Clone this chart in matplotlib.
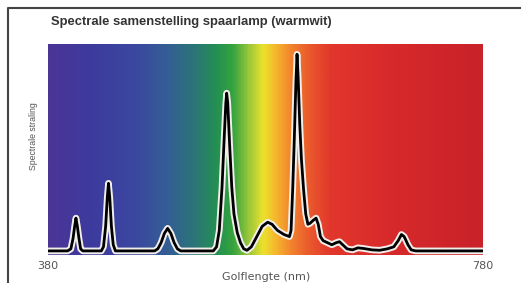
import numpy as np
import matplotlib
matplotlib.use("Agg")
import matplotlib.pyplot as plt
import matplotlib.patheffects as pe
from matplotlib.colors import LinearSegmentedColormap
from matplotlib.lines import Line2D

# Spectrum (wavelength in nm, relative intensity)
wavelength = [380, 398, 401, 403, 404.5, 405.7, 407, 408.5, 410, 412,
              429, 431, 433, 434.5, 435.6, 436.8, 438.3, 440, 442,
              478, 481, 484, 487, 490, 493, 496, 499, 502,
              532, 535, 537.5, 540, 542, 543.5, 544.3, 545.3, 547, 549, 551, 554, 557, 560, 563,
              567, 572, 577, 582, 586, 591, 597, 602,
              603.5, 605, 606.5, 608, 609, 610, 611.5, 613, 615, 617, 619,
              621, 624, 626.5, 628.5, 630.5, 633, 637, 641, 645, 648, 651, 655,
              660, 665, 670, 678, 685, 692, 698, 702, 705, 707.5, 711, 714, 718, 780]
intensity = [0, 0, 1, 6, 12, 16, 12, 6, 1, 0,
             0, 2, 12, 26, 33, 26, 12, 3, 0,
             0, 1, 4, 8.5, 11, 8.5, 4, 1, 0,
             0, 2, 10, 31, 55, 72, 77, 72, 52, 31, 18, 9, 4, 1, 0.3,
             2, 7, 12, 14, 13, 10, 8, 7,
             10, 30, 55, 83, 96, 85, 62, 45, 30, 18, 13,
             13.5, 15, 16, 13, 7, 5, 4, 3, 4, 4.5, 3, 1,
             0.5, 1.5, 1.2, 0.5, 0.3, 1, 2, 5, 8, 7, 3, 0.5, 0, 0]

# colour stops of the background spectrum
grad_nm = [380, 420, 460, 490, 515, 535, 550, 565, 578, 590, 603, 620, 640, 700, 780]
grad_colors = ["#4b3597", "#3d3b9e", "#3a48a0", "#345e94", "#2b7676", "#239052",
               "#36a33e", "#9cc83a", "#ece12c", "#f5b52c", "#f2862e", "#ea5a2c",
               "#e2372c", "#d6292b", "#c92229"]

title = "Spectrale samenstelling spaarlamp (warmwit)"
x_label = "Golflengte (nm)"
y_label = "Spectrale straling"

plt.rcParams['font.family'] = ['Liberation Sans', 'DejaVu Sans']

W, H = 521, 283
fig = plt.figure(figsize=(W / 100, H / 100), dpi=100)
ax = fig.add_axes([48 / W, 28 / H, 435 / W, 211 / H])

pos = [(n - 380) / 400 for n in grad_nm]
cmap = LinearSegmentedColormap.from_list("spec", list(zip(pos, grad_colors)))
ax.imshow(np.linspace(0, 1, 400).reshape(1, -1), cmap=cmap, aspect='auto',
          extent=[380, 780, -2, 101], interpolation='bilinear')

ax.plot(wavelength, intensity, color='black', lw=2.0, solid_joinstyle='round',
        path_effects=[pe.withStroke(linewidth=4.8, foreground='#f2eeec')])

ax.set_xlim(380, 780)
ax.set_ylim(-2, 101)
ax.set_xticks([380, 780])
ax.set_xticklabels(["380", "780"], fontsize=8, color='#555555', family='DejaVu Sans')
ax.set_yticks([])
ax.tick_params(axis='x', length=0, pad=4)
for s in ax.spines.values():
    s.set_visible(False)

fig.text(51 / W, 1 - 22 / H, title, fontsize=9.4, fontweight='bold',
         color='#333333', va='center', ha='left')
fig.text(266 / W, 1 - 277 / H, x_label, fontsize=8, color='#555555',
         ha='center', va='center', family='DejaVu Sans')
fig.text(34 / W, 1 - 136 / H, y_label, fontsize=6.3, color='#555555',
         rotation=90, ha='center', va='center')

# partial frame from the original page
fig.add_artist(Line2D([8 / W, 8 / W, 1], [0, 1 - 8 / H, 1 - 8 / H],
                      transform=fig.transFigure, color='#444444', lw=1.5))

fig.savefig("out.png", dpi=100)
